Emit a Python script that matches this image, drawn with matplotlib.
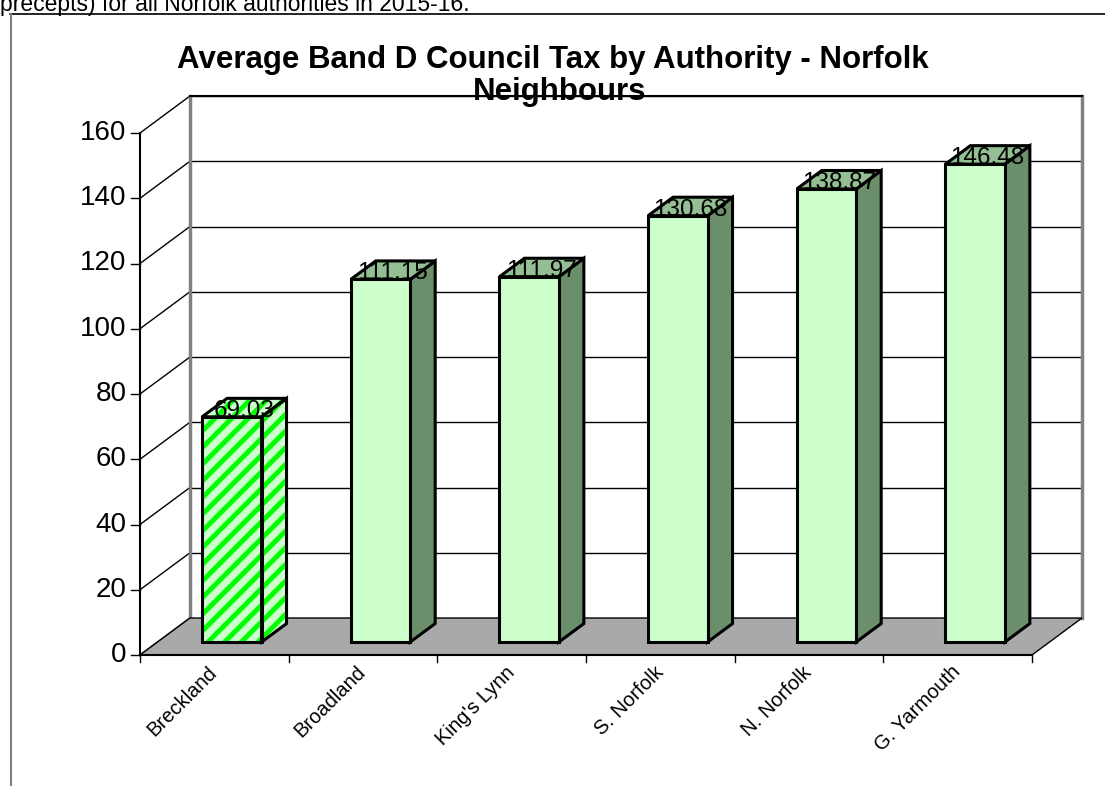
import matplotlib
matplotlib.use("Agg")
import matplotlib.pyplot as plt
from matplotlib.patches import Polygon

plt.rcParams['font.family'] = ['Liberation Sans', 'DejaVu Sans']
plt.rcParams['hatch.linewidth'] = 3.5

# dados do grafico
authorities = ["Breckland", "Broadland", "King's Lynn", "S. Norfolk", "N. Norfolk", "G. Yarmouth"]
band_d = [69.03, 111.15, 111.97, 130.68, 138.87, 146.48]
y_ticks = [0, 20, 40, 60, 80, 100, 120, 140, 160]

# cores (estilo Excel 3D)
front_col = '#CCFFCC'
side_col = '#6B8E6B'
top_col = '#94BF94'
floor_col = '#A9A9A9'

# profundidade em unidades de dados
DX = 0.336
DY = 11.34
d0, d1 = 0.35, 0.85
bar_w = 0.4

fig = plt.figure(figsize=(11.05, 7.87), dpi=100)
W, H = 1105, 787
ax = fig.add_axes([140 / W, 1 - 655 / H, (1032 - 140) / W, (655 - 133) / H])
ax.set_xlim(0, len(authorities))
ax.set_ylim(0, 160)
ax.axis('off')

n = len(authorities)


def poly(pts, **kw):
    p = Polygon(pts, closed=True, clip_on=False, **kw)
    ax.add_patch(p)
    return p


# chao
poly([(0, 0), (n, 0), (n + DX, DY), (DX, DY)], facecolor=floor_col, edgecolor='black', lw=1, zorder=1)

# grade da parede de tras e parede lateral
for v in y_ticks:
    if v > 0:
        ax.plot([DX, n + DX], [v + DY, v + DY], color='black', lw=1, clip_on=False, zorder=0.5)
    ax.plot([0, DX], [v, v + DY], color='black', lw=1, clip_on=False, zorder=0.5)
    ax.plot([-0.06, 0], [v, v], color='black', lw=1, clip_on=False, zorder=2)
    ax.text(-0.09, v, str(v), ha='right', va='center', fontsize=20, clip_on=False)

ax.plot([DX, DX], [DY, 160 + DY], color='#808080', lw=2.5, clip_on=False, zorder=0.6)
ax.plot([n + DX, n + DX], [DY, 160 + DY], color='#808080', lw=2.5, clip_on=False, zorder=0.6)
ax.plot([DX, n + DX], [160 + DY, 160 + DY], color='black', lw=1.5, clip_on=False, zorder=0.6)
ax.plot([0, 0], [0, 160], color='black', lw=1.5, clip_on=False, zorder=2)
ax.plot([0, n], [0, 0], color='black', lw=1.5, clip_on=False, zorder=2)

# marcas do eixo x e rotulos
for i in range(n + 1):
    ax.plot([i, i], [0, -2], color='black', lw=1, clip_on=False, zorder=2)
for i, name in enumerate(authorities):
    ax.text(i + 0.545, -2.3, name, rotation=45, ha='right', va='top', fontsize=14.5, clip_on=False)

# barras 3D
for i, v in enumerate(band_d):
    x0 = i + 0.5 - bar_w / 2 + d0 * DX
    x1 = x0 + bar_w
    yb = d0 * DY
    ex = (d1 - d0) * DX
    ey = (d1 - d0) * DY
    hatched = (i == 0)
    front = [(x0, yb), (x1, yb), (x1, yb + v), (x0, yb + v)]
    side = [(x1, yb), (x1 + ex, yb + ey), (x1 + ex, yb + ey + v), (x1, yb + v)]
    top = [(x0, yb + v), (x1, yb + v), (x1 + ex, yb + ey + v), (x0 + ex, yb + ey + v)]
    for pts, col in [(side, side_col), (top, top_col), (front, front_col)]:
        if hatched:
            poly(pts, facecolor=front_col, edgecolor='#00FF00', hatch='//', lw=0, zorder=3)
            poly(pts, facecolor='none', edgecolor='black', lw=2.2, zorder=3.1)
        else:
            poly(pts, facecolor=col, edgecolor='black', lw=2.2, zorder=3)
    ax.text(x0 + bar_w / 2 + ex / 2, yb + v + ey / 2 - 1.0, f"{v:.2f}", ha='center', va='center',
            fontsize=17.5, zorder=5, clip_on=False)

# titulo
fig.text(553 / W, 1 - 60 / H, "Average Band D Council Tax by Authority - Norfolk", ha='center', va='center',
         fontsize=22.5, fontweight='bold')
fig.text(560 / W, 1 - 92 / H, "Neighbours", ha='center', va='center', fontsize=22.5, fontweight='bold', zorder=10)

# texto cortado no topo e moldura
fig.text(0, 1 - 11 / H, "precepts) for all Norfolk authorities in 2015-16.", ha='left', va='baseline', fontsize=16.5)
fig.add_artist(plt.Line2D([10 / W, 1], [1 - 14 / H, 1 - 14 / H], color='black', lw=1.2))
fig.add_artist(plt.Line2D([11 / W, 11 / W], [1 - 14 / H, 1 - 785 / H], color='#808080', lw=1.5))

fig.savefig("out.png", dpi=100)
